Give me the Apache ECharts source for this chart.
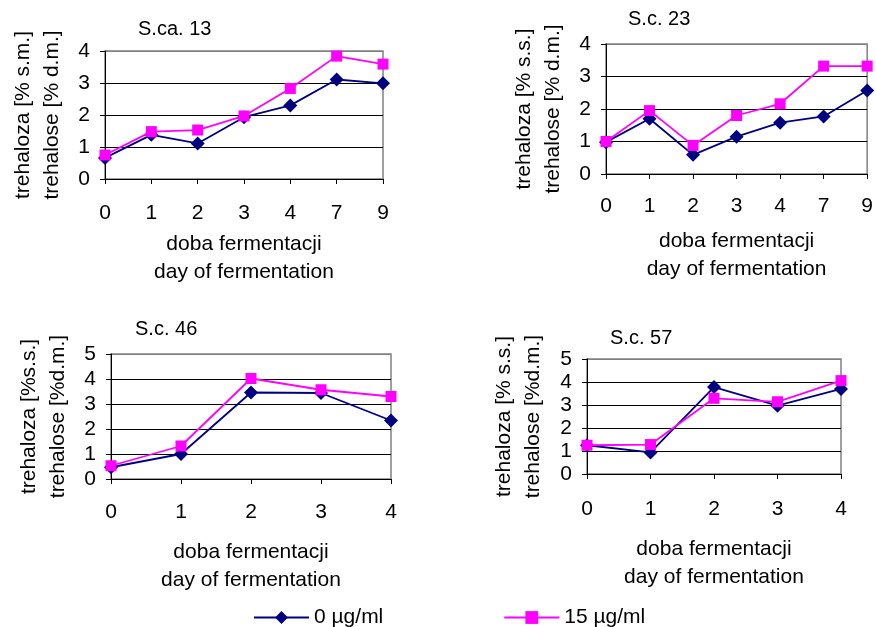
<!DOCTYPE html>
<html>
<head>
<meta charset="utf-8">
<script src="https://cdn.jsdelivr.net/npm/echarts@6/dist/echarts.min.js"></script>
<style>
html,body{margin:0;padding:0;background:#fff;}
#c{width:876px;height:627px;}
</style>
</head>
<body>
<div id="c"></div>
<script>
// Data
const days1 = ['0','1','2','3','4','7','9'];
const days2 = ['0','1','2','3','4'];
const titles = ['S.ca. 13','S.c. 23','S.c. 46','S.c. 57'];
const yNames = [
  'trehaloza [% s.m.]\ntrehalose [% d.m.]',
  'trehaloza [% s.s.]\ntrehalose [% d.m.]',
  'trehaloza [%s.s.]\ntrehalose [%d.m.]',
  'trehaloza [% s.s.]\ntrehalose [%d.m.]'
];
const xName = 'doba fermentacji\nday of fermentation';
const seriesNames = ['0 µg/ml','15 µg/ml'];

const sca13_0  = [0.66, 1.38, 1.11, 1.93, 2.30, 3.11, 2.99];
const sca13_15 = [0.75, 1.48, 1.53, 1.97, 2.83, 3.84, 3.59];
const sc23_0   = [0.98, 1.70, 0.59, 1.15, 1.58, 1.77, 2.57];
const sc23_15  = [1.00, 1.95, 0.88, 1.80, 2.16, 3.32, 3.32];
const sc46_0   = [0.47, 1.00, 3.46, 3.44, 2.34];
const sc46_15  = [0.53, 1.32, 4.02, 3.57, 3.30];
const sc57_0   = [1.25, 0.94, 3.78, 2.97, 3.70];
const sc57_15  = [1.25, 1.28, 3.29, 3.14, 4.06];

const yMax = [4, 4, 5, 5];
const cats = [days1, days1, days2, days2];
const data0 = [sca13_0, sc23_0, sc46_0, sc57_0];
const data15 = [sca13_15, sc23_15, sc46_15, sc57_15];

const FONT = 'Liberation Sans, Arial, sans-serif';
const grids = [
  {left:105, top:51, width:278, height:128},
  {left:606, top:44, width:263, height:130},
  {left:111, top:354, width:280, height:125},
  {left:587, top:359, width:254, height:115}
];
const titlePos = [{left:138, top:19},{left:628, top:9},{left:135, top:319},{left:610, top:328}];
const xLabelMargin = [24, 22, 23, 25];
const xNameGap = [51, 53, 59, 61];
const yNameGap = [38, 38, 38, 39];

function splitColors(m){
  const arr = [];
  for (let k=0;k<m;k++) arr.push('#000');
  arr.push('#808080');
  return arr;
}

const option = {
  backgroundColor:'#fff',
  textStyle:{fontFamily:FONT, color:'#000'},
  title: titles.map((t,i)=>({text:t, left:titlePos[i].left, top:titlePos[i].top, padding:0,
    textStyle:{fontFamily:FONT, fontSize:20, fontWeight:'normal', color:'#000'}})),
  grid: grids.map(g=>Object.assign({show:true, borderColor:'#808080', borderWidth:1.5, backgroundColor:'transparent', containLabel:false}, g)),
  xAxis: cats.map((c,i)=>({
    type:'category', gridIndex:i, data:c, boundaryGap:false,
    name:xName, nameLocation:'middle', nameGap:xNameGap[i],
    nameTextStyle:{fontFamily:FONT, fontSize:21, color:'#000', lineHeight:28, verticalAlign:'top'},
    axisLine:{show:true, lineStyle:{color:'#000', width:1}},
    axisTick:{show:true, length:5, inside:false, lineStyle:{color:'#000'}},
    axisLabel:{fontFamily:FONT, fontSize:21, color:'#000', margin:xLabelMargin[i]},
    splitLine:{show:false},
    z:5
  })),
  yAxis: yMax.map((m,i)=>({
    type:'value', gridIndex:i, min:0, max:m, interval:1,
    name:yNames[i], nameLocation:'middle', nameRotate:90, nameGap:yNameGap[i],
    nameTextStyle:{fontFamily:FONT, fontSize:21, color:'#000', lineHeight:29},
    axisLine:{show:true, lineStyle:{color:'#000', width:1}},
    axisTick:{show:true, length:5, lineStyle:{color:'#000'}},
    axisLabel:{fontFamily:FONT, fontSize:21, color:'#000', margin:15},
    splitLine:{show:true, lineStyle:{color:splitColors(m), width:1}}
  })),
  legend:{
    left:248, top:602, itemWidth:55, itemHeight:16, itemGap:120,
    textStyle:{fontFamily:FONT, fontSize:21, color:'#000'},
    data:seriesNames
  },
  series: []
};
for (let i=0;i<4;i++){
  option.series.push({
    name:seriesNames[0], type:'line', xAxisIndex:i, yAxisIndex:i, data:data0[i],
    symbol:'diamond', symbolSize:14, showAllSymbol:true,
    lineStyle:{color:'#000080', width:1.8}, itemStyle:{color:'#000080'},
    animation:false, z:2
  });
  option.series.push({
    name:seriesNames[1], type:'line', xAxisIndex:i, yAxisIndex:i, data:data15[i],
    symbol:'rect', symbolSize:11, showAllSymbol:true,
    lineStyle:{color:'#FF00FF', width:1.8}, itemStyle:{color:'#FF00FF'},
    animation:false, z:3
  });
}
const chart = echarts.init(document.getElementById('c'), null, {renderer:'canvas'});
chart.setOption(option);
</script>
</body>
</html>
